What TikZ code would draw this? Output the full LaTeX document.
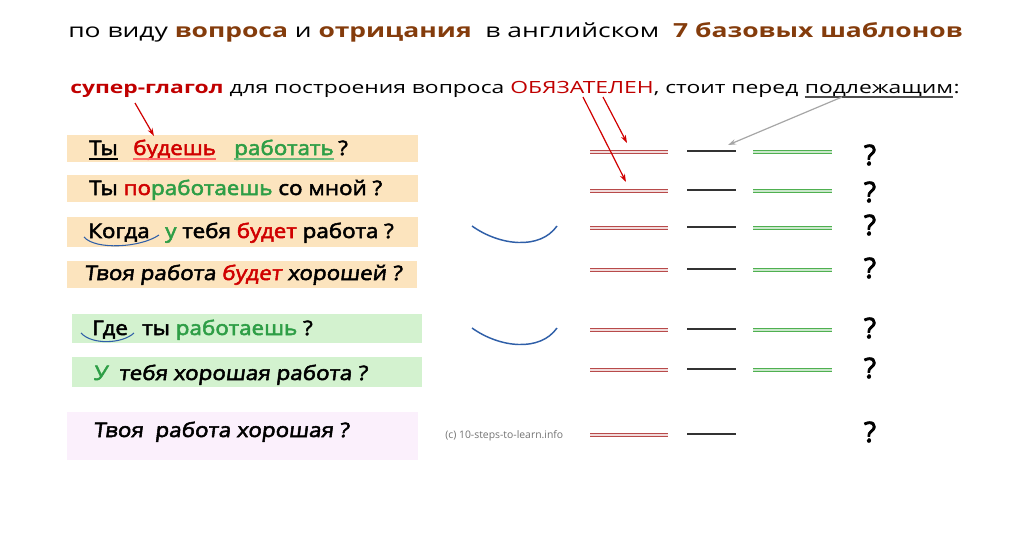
\documentclass[tikz,border=0pt]{standalone}
\usepackage{fontspec}
\setmainfont{Open Sans}
\newfontfamily\titlefont{Open Sans}[FakeStretch=1.36]
\newfontfamily\rowfont{Open Sans}[FakeBold=2.6,FakeStretch=1.12]
\newfontfamily\rowslfont{Open Sans}[FakeBold=2.6,FakeStretch=1.12,FakeSlant=0.12]
\newfontfamily\qfont{Open Sans}[FakeBold=3]
\usetikzlibrary{arrows.meta}
\definecolor{brn}{HTML}{843C0C}
\definecolor{sred}{HTML}{C00000}
\definecolor{wred}{HTML}{D00000}
\definecolor{wgreen}{HTML}{2E9E46}
\definecolor{boxor}{HTML}{FCE4BE}
\definecolor{boxgr}{HTML}{D3F2CF}
\definecolor{boxpk}{HTML}{FBF0FC}
\definecolor{lred}{HTML}{B84A4A}
\definecolor{lgreen}{HTML}{4FB050}
\definecolor{arcblue}{HTML}{2F5FA8}
\begin{document}
\begin{tikzpicture}[x=0.75pt,y=-0.75pt,
  rowtxt/.style={anchor=base west,inner sep=0pt,font=\rowfont\fontsize{15}{18}\selectfont},
  rowsl/.style={anchor=base west,inner sep=0pt,font=\rowslfont\fontsize{15}{18}\selectfont},
  redline/.style={draw=lred,double=white!80!lred,double distance=0.9pt,line width=0.9pt},
  greenline/.style={draw=lgreen,double=white!70!lgreen,double distance=0.9pt,line width=0.9pt},
  blackline/.style={draw=black!80,line width=1pt},
  qmark/.style={inner sep=0pt,font=\qfont\fontsize{21}{24}\selectfont},
  redarrow/.style={draw=wred,line width=0.9pt,-{Stealth[length=6pt,width=4pt]}},
  grayarrow/.style={draw=black!35,line width=0.9pt,-{Stealth[length=6pt,width=4pt]}},
  arcline/.style={draw=arcblue,line width=1.1pt}
]
\useasboundingbox (0,0) rectangle (1024,536);

% title lines
\node[anchor=base west,inner sep=0pt,font=\titlefont\fontsize{14.6}{18}\selectfont] (title) at (68,37)
 {по виду \textbf{\textcolor{brn}{вопроса}} и \textbf{\textcolor{brn}{отрицания}}\ \ в английском\ \ \textbf{\textcolor{brn}{7 базовых шаблонов}}};
\node[anchor=base west,inner sep=0pt,font=\titlefont\fontsize{12.6}{16}\selectfont] (sub1) at (70,93)
 {\textbf{\textcolor{sred}{супер-глагол}} для построения вопроса \textcolor{sred}{ОБЯЗАТЕЛЕН}, стоит перед};
\node[anchor=base west,inner sep=0pt,font=\titlefont\fontsize{12.6}{16}\selectfont] (subj) at ([xshift=4.5pt]sub1.base east) {подлежащим};
\node[anchor=base west,inner sep=0pt,font=\titlefont\fontsize{12.6}{16}\selectfont] (colon) at (subj.base east) {:};
\draw[draw=black!70,line width=1.6pt] ([yshift=-3pt]subj.base west) -- ([yshift=-3pt]subj.base east);

% boxes
\fill[boxor] (67,135) rectangle (418,162);
\fill[boxor] (67,175) rectangle (418,202);
\fill[boxor] (67,217) rectangle (418,247);
\fill[boxor] (67,261) rectangle (417,288);
\fill[boxgr] (72,314) rectangle (422,343);
\fill[boxgr] (72,357) rectangle (422,387);
\fill[boxpk] (67,412) rectangle (418,460);

% row 1
\node[rowtxt] (r1a) at (89,155) {Ты};
\node[rowtxt,text=wred] (r1b) at (133,155) {будешь};
\node[rowtxt,text=wgreen] (r1c) at (234,155) {работать};
\node[rowtxt] (r1q) at (338,155) {?};
\draw[black,line width=1pt] ([yshift=-3pt]r1a.base west) -- ([yshift=-3pt]r1a.base east);
\draw[red!60!white,line width=1.2pt] ([yshift=-3pt]r1b.base west) -- ([yshift=-3pt]r1b.base east);
\draw[wgreen!70!white,line width=1.2pt] ([yshift=-3pt]r1c.base west) -- ([yshift=-3pt]r1c.base east);

% row 2
\node[rowtxt] (r2) at (89,195) {Ты \textcolor{wred}{по}\textcolor{wgreen}{работаешь} со мной ?};

% row 3
\node[rowtxt] (r3a) at (88,238) {Когда};
\node[rowtxt] (r3b) at (165,238) {\textcolor{wgreen}{у} тебя \textcolor{wred}{будет} работа ?};
\draw[arcline,line width=0.8pt] (84,237) .. controls (95,250) and (140,248) .. (159,235);

% row 4
\node[rowsl] (r4) at (84,280) {Твоя работа \textcolor{wred}{будет} хорошей ?};

% row 5
\node[rowtxt] (r5a) at (92,335) {Где};
\node[rowtxt] (r5b) at (142,335) {ты \textcolor{wgreen}{работаешь} ?};
\draw[arcline,line width=0.8pt] (81,333) .. controls (92,345) and (122,344) .. (134,333);

% row 6
\node[rowsl] (r6) at (93,380) {\textcolor{wgreen}{У}\ \ тебя хорошая работа ?};

% row 7
\node[rowsl] (r7) at (93,437) {Твоя\ \ работа хорошая ?};

% copyright
\node[anchor=west,inner sep=0pt,text=black!55,font=\fontsize{7.8}{9}\selectfont] (copy) at (445,436) {(c) 10-steps-to-learn.info};

% blue arcs
\coordinate (b3a) at (472,226); \coordinate (b3b) at (557,226);
\draw[arcline] (b3a) .. controls (500,246) and (540,250) .. (b3b);
\coordinate (b5a) at (472,328); \coordinate (b5b) at (557,328);
\draw[arcline] (b5a) .. controls (500,348) and (540,352) .. (b5b);

% pattern lines
\foreach \n/\y in {1/152,2/191,3/228,4/270,5/330,6/370,7/435}{
  \coordinate (rl\n a) at (590,\y); \coordinate (rl\n b) at (668,\y);
  \draw[redline] (rl\n a) -- (rl\n b);
  \coordinate (bl\n a) at (687,\y-1); \coordinate (bl\n b) at (736,\y-1);
  \draw[blackline] (bl\n a) -- (bl\n b);
}
\foreach \n/\y in {1/152,2/191,3/228,4/270,5/330,6/370}{
  \coordinate (gl\n a) at (753,\y); \coordinate (gl\n b) at (832,\y);
  \draw[greenline] (gl\n a) -- (gl\n b);
}
\foreach \n/\y in {1/155,2/192,3/225,4/268,5/328,6/368,7/432}{
  \node[qmark] (q\n) at (870,\y) {?};
}

% arrows
\coordinate (a0s) at (135,103); \coordinate (a0e) at (154,136);
\draw[redarrow] (a0s) -- (a0e);
\coordinate (a1s) at (603,97); \coordinate (a1e) at (627,143);
\draw[redarrow] (a1s) -- (a1e);
\coordinate (a2s) at (583,97); \coordinate (a2e) at (626,182);
\draw[redarrow] (a2s) -- (a2e);
\coordinate (a3s) at (842,97); \coordinate (a3e) at (728,145);
\draw[grayarrow] (a3s) -- (a3e);
\end{tikzpicture}
\end{document}
